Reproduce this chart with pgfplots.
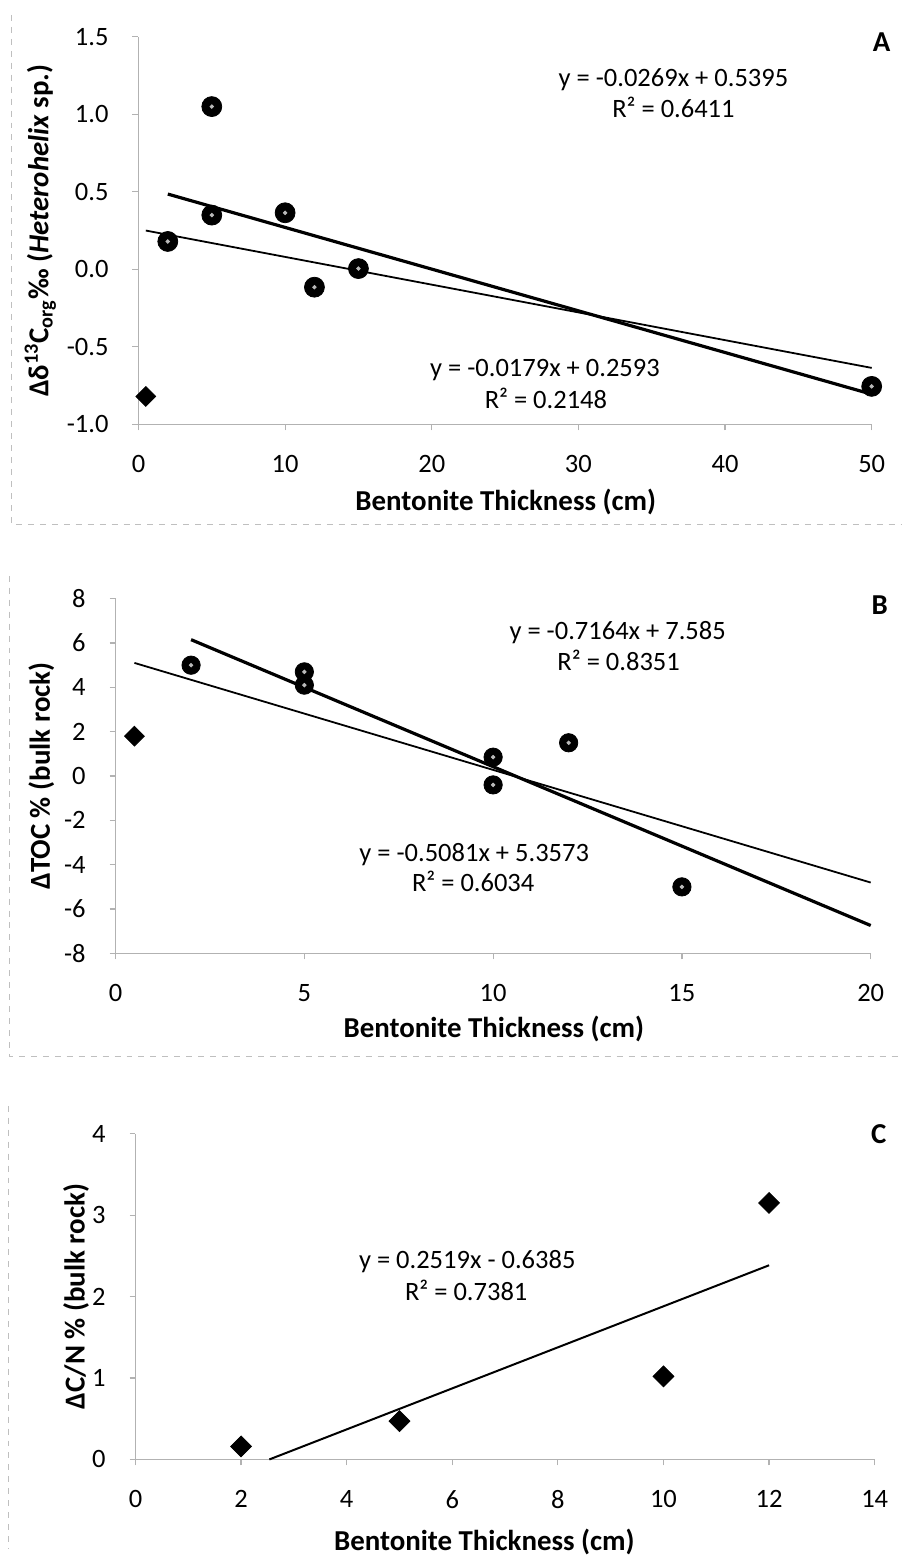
\documentclass[border=0pt]{standalone}
\usepackage{fontspec}
\setmainfont{Carlito}
\usepackage{pgfplots}
\pgfplotsset{compat=1.18}

\newcommand\tl{\fontsize{13.3}{16}\selectfont}
\newcommand\lb{\fontsize{14.5}{17}\selectfont\bfseries}

\pgfplotsset{
  panel/.style={
    scale only axis, clip=false,
    axis x line*=bottom, axis y line*=left,
    axis line style={-, gray!60, line width=0.6pt},
    major tick style={gray!60, line width=0.6pt},
    tick align=outside, major tick length=3pt,
    minor tick num=0,
    ticklabel style={font=\tl},
    xticklabel style={yshift=-9pt},
    yticklabel style={xshift=-8.5pt},
    x label style={font=\lb, anchor=base},
    y label style={font=\lb, anchor=base},
  },
  circ/.style={only marks, mark=*, mark size=5pt, black},
  dot/.style={only marks, mark=*, mark size=0.9pt, gray!55},
  diam/.style={only marks, mark=square*, mark size=3.5pt, mark options={rotate=45}, black},
  thickfit/.style={black, line width=1.6pt, no marks},
  thinfit/.style={black, line width=0.9pt, no marks},
}

\begin{document}
\begin{tikzpicture}
\begin{scope}[x=0.5pt, y=0.5pt]
  \useasboundingbox (0,0) rectangle (910,1562);
  % faint chart-area frames of the scanned panels
  \draw[gray!50, dashed, line width=0.5pt] (12,1547) -- (12,1035) -- (905,1035);
  \draw[gray!50, dashed, line width=0.5pt] (10,984) -- (10,501) -- (905,501);
  \draw[gray!50, dashed, line width=0.5pt] (9,452) -- (9,7);
\end{scope}

% ---------------- Panel A ----------------
\begin{axis}[panel,
  at={(69.5pt,568pt)}, anchor=south west,
  width=368pt, height=194.5pt,
  xmin=0, xmax=50, ymin=-1, ymax=1.5,
  xtick={0,10,20,30,40,50},
  xticklabels={0,10,20,30,40,50},
  ytick={-1,-0.5,0,0.5,1,1.5},
  yticklabels={-1.0,-0.5,0.0,0.5,1.0,1.5},
  xlabel={Bentonite Thickness (cm)},
  ylabel={Δδ\textsuperscript{13}C\textsubscript{org}‰ (\textit{Heterohelix} sp.)},
  xlabel style={at={(axis description cs:0.501,-0.221)}},
  ylabel style={at={(axis description cs:-0.123,0.5)}},
]
  \addplot[thinfit] coordinates {(0.5,0.2504) (50,-0.6357)};
  \addplot[thickfit] coordinates {(2,0.4857) (50,-0.8055)};
  \addplot[circ] coordinates {(2,0.18) (5,1.05) (5,0.35) (10,0.365) (12,-0.115) (15,0.005) (50,-0.755)};
  \addplot[dot] coordinates {(2,0.18) (5,1.05) (5,0.35) (10,0.365) (12,-0.115) (15,0.005) (50,-0.755)};
  \addplot[diam] coordinates {(0.5,-0.82)};
\end{axis}

% ---------------- Panel B ----------------
\begin{axis}[panel,
  at={(58pt,302.5pt)}, anchor=south west,
  width=379pt, height=178pt,
  xmin=0, xmax=20, ymin=-8, ymax=8,
  xtick={0,5,10,15,20},
  xticklabels={0,5,10,15,20},
  ytick={-8,-6,-4,-2,0,2,4,6,8},
  yticklabels={-8,-6,-4,-2,0,2,4,6,8},
  xlabel={Bentonite Thickness (cm)},
  ylabel={ΔTOC \% (bulk rock)},
  xlabel style={at={(axis description cs:0.501,-0.236)}},
  ylabel style={at={(axis description cs:-0.087,0.5)}},
]
  \addplot[thinfit] coordinates {(0.5,5.103) (20,-4.805)};
  \addplot[thickfit] coordinates {(2,6.152) (20,-6.743)};
  \addplot[circ, mark size=4.6pt] coordinates {(2,5.0) (5,4.7) (5,4.1) (10,0.85) (10,-0.4) (12,1.5) (15,-5.0)};
  \addplot[dot] coordinates {(2,5.0) (5,4.7) (5,4.1) (10,0.85) (10,-0.4) (12,1.5) (15,-5.0)};
  \addplot[diam] coordinates {(0.5,1.8)};
\end{axis}

% ---------------- Panel C ----------------
\begin{axis}[panel,
  at={(68pt,48.5pt)}, anchor=south west,
  width=371pt, height=163.5pt,
  xmin=0, xmax=14, ymin=0, ymax=4,
  xtick={0,2,4,6,8,10,12,14},
  xticklabels={0,2,4,6,8,10,12,14},
  ytick={0,1,2,3,4},
  yticklabels={0,1,2,3,4},
  xlabel={Bentonite Thickness (cm)},
  ylabel={ΔC/N \% (bulk rock)},
  xlabel style={at={(axis description cs:0.472,-0.281)}},
  ylabel style={at={(axis description cs:-0.0687,0.5)}},
]
  \addplot[black, line width=1pt, no marks] coordinates {(2.535,0) (12,2.3843)};
  \addplot[diam, mark size=3.7pt] coordinates {(2,0.16) (5,0.47) (10,1.02) (12,3.15)};
\end{axis}

% ---------------- equations and panel letters ----------------
\begin{scope}[x=0.5pt, y=0.5pt]
  \node[font=\tl, anchor=base] at (676,1475) {y = -0.0269x + 0.5395};
  \node[font=\tl, anchor=base] at (676,1444) {R² = 0.6411};
  \node[font=\tl, anchor=base] at (547,1184) {y = -0.0179x + 0.2593};
  \node[font=\tl, anchor=base] at (548,1152) {R² = 0.2148};
  \node[font=\lb, anchor=base] at (885,1510) {A};

  \node[font=\tl, anchor=base] at (620,920) {y = -0.7164x + 7.585};
  \node[font=\tl, anchor=base] at (621,889) {R² = 0.8351};
  \node[font=\tl, anchor=base] at (476,697) {y = -0.5081x + 5.3573};
  \node[font=\tl, anchor=base] at (475,667) {R² = 0.6034};
  \node[font=\lb, anchor=base] at (883,945) {B};

  \node[font=\tl, anchor=base] at (469,289) {y = 0.2519x - 0.6385};
  \node[font=\tl, anchor=base] at (468,257) {R² = 0.7381};
  \node[font=\lb, anchor=base] at (882,414) {C};
\end{scope}
\end{tikzpicture}
\end{document}
